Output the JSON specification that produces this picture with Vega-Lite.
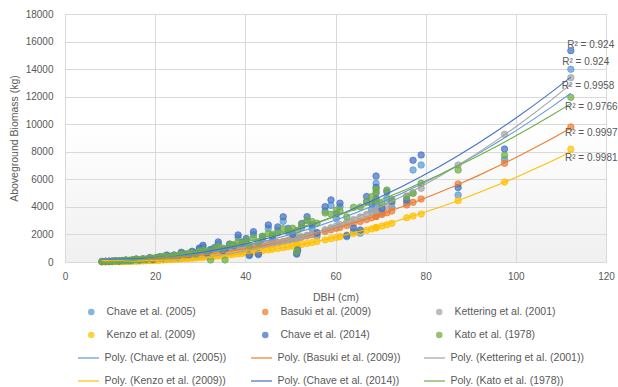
{
"$schema": "https://vega.github.io/schema/vega-lite/v6.json",
"width": 541, "height": 248,
"autosize": {"type": "none"},
"padding": {"left": 65, "top": 14, "right": 12, "bottom": 125},
"background": "#ffffff",
"config": {
  "font": "Liberation Sans",
  "view": {"stroke": null, "fill": {"gradient": "linear", "x1": 0, "y1": 0, "x2": 0, "y2": 1, "stops": [{"offset": 0, "color": "#ffffff"}, {"offset": 0.45, "color": "#ffffff"}, {"offset": 1, "color": "#f0f0f0"}]}},
  "axis": {"labelColor": "#595959", "titleColor": "#595959", "labelFont": "Liberation Sans", "titleFont": "Liberation Sans", "labelFontSize": 10, "titleFontSize": 10.5, "titleFontWeight": "normal", "gridColor": "#D9D9D9", "gridWidth": 1, "ticks": false, "domain": false, "labelOverlap": false},
  "legend": {"labelColor": "#595959", "labelFont": "Liberation Sans", "labelFontSize": 10.5, "title": null, "padding": 0, "labelLimit": 250}
},
"datasets": {
"pts": [
{"s":"a","d":8.2,"y":30},{"s":"a","d":9.0,"y":43},{"s":"a","d":9.8,"y":40},{"s":"a","d":10.5,"y":57},{"s":"a","d":11.2,"y":78},{"s":"a","d":12.0,"y":56},{"s":"a","d":12.8,"y":97},{"s":"a","d":13.5,"y":128},{"s":"a","d":14.3,"y":95},{"s":"a","d":15.0,"y":129},{"s":"a","d":15.8,"y":198},{"s":"a","d":16.5,"y":124},{"s":"a","d":17.3,"y":203},{"s":"a","d":18.0,"y":178},{"s":"a","d":18.8,"y":286},{"s":"a","d":19.5,"y":171},{"s":"a","d":20.3,"y":283},{"s":"a","d":21.0,"y":344},{"s":"a","d":21.8,"y":264},{"s":"a","d":22.6,"y":452},{"s":"a","d":23.4,"y":359},{"s":"a","d":24.2,"y":459},{"s":"a","d":25.0,"y":324},{"s":"a","d":25.8,"y":633},{"s":"a","d":26.6,"y":526},{"s":"a","d":27.4,"y":446},{"s":"a","d":28.2,"y":702},{"s":"a","d":29.0,"y":587},{"s":"a","d":29.8,"y":912},{"s":"a","d":30.6,"y":1089},{"s":"a","d":31.5,"y":581},{"s":"a","d":32.3,"y":822},{"s":"a","d":33.2,"y":949},{"s":"a","d":34.0,"y":1310},{"s":"a","d":35.0,"y":741},{"s":"a","d":35.5,"y":852},{"s":"a","d":36.5,"y":1178},{"s":"a","d":37.4,"y":1056},{"s":"a","d":38.4,"y":1764},{"s":"a","d":39.3,"y":1290},{"s":"a","d":40.2,"y":1530},{"s":"a","d":40.9,"y":460},{"s":"a","d":41.8,"y":1980},{"s":"a","d":42.9,"y":527},{"s":"a","d":43.8,"y":1658},{"s":"a","d":45.1,"y":2445},{"s":"a","d":46.0,"y":1702},{"s":"a","d":47.2,"y":2292},{"s":"a","d":48.4,"y":2950},{"s":"a","d":49.5,"y":2196},{"s":"a","d":50.5,"y":1820},{"s":"a","d":51.4,"y":560},{"s":"a","d":51.6,"y":800},{"s":"a","d":52.5,"y":2513},{"s":"a","d":53.7,"y":2990},{"s":"a","d":54.8,"y":2426},{"s":"a","d":55.9,"y":1887},{"s":"a","d":57.7,"y":3700},{"s":"a","d":59.0,"y":4100},{"s":"a","d":60.2,"y":3155},{"s":"a","d":61.0,"y":4015},{"s":"a","d":62.5,"y":1840},{"s":"a","d":64.0,"y":2213},{"s":"a","d":65.5,"y":2090},{"s":"a","d":66.9,"y":4380},{"s":"a","d":68.0,"y":3800},{"s":"a","d":69.0,"y":5710},{"s":"a","d":69.0,"y":4985},{"s":"a","d":69.0,"y":4200},{"s":"a","d":70.3,"y":3535},{"s":"a","d":71.4,"y":4620},{"s":"a","d":72.5,"y":3970},{"s":"a","d":75.8,"y":4300},{"s":"a","d":77.2,"y":6680},{"s":"a","d":79.0,"y":7040},{"s":"a","d":87.2,"y":4860},{"s":"a","d":97.5,"y":7450},{"s":"a","d":112.2,"y":13990},
{"s":"b","d":8.2,"y":28},{"s":"b","d":9.0,"y":35},{"s":"b","d":9.8,"y":42},{"s":"b","d":10.5,"y":49},{"s":"b","d":11.2,"y":57},{"s":"b","d":12.0,"y":66},{"s":"b","d":12.8,"y":77},{"s":"b","d":13.5,"y":86},{"s":"b","d":14.3,"y":98},{"s":"b","d":15.0,"y":109},{"s":"b","d":15.8,"y":123},{"s":"b","d":16.5,"y":135},{"s":"b","d":17.3,"y":150},{"s":"b","d":18.0,"y":164},{"s":"b","d":18.8,"y":181},{"s":"b","d":19.5,"y":196},{"s":"b","d":20.3,"y":215},{"s":"b","d":21.0,"y":232},{"s":"b","d":21.8,"y":252},{"s":"b","d":22.6,"y":273},{"s":"b","d":23.4,"y":295},{"s":"b","d":24.2,"y":318},{"s":"b","d":25.0,"y":342},{"s":"b","d":25.8,"y":367},{"s":"b","d":26.6,"y":393},{"s":"b","d":27.4,"y":420},{"s":"b","d":28.2,"y":448},{"s":"b","d":29.0,"y":476},{"s":"b","d":29.8,"y":507},{"s":"b","d":30.6,"y":537},{"s":"b","d":31.5,"y":573},{"s":"b","d":32.3,"y":606},{"s":"b","d":33.2,"y":645},{"s":"b","d":34.0,"y":680},{"s":"b","d":35.0,"y":724},{"s":"b","d":35.5,"y":750},{"s":"b","d":36.5,"y":796},{"s":"b","d":37.4,"y":842},{"s":"b","d":38.4,"y":892},{"s":"b","d":39.3,"y":940},{"s":"b","d":40.2,"y":990},{"s":"b","d":40.9,"y":1028},{"s":"b","d":41.8,"y":1080},{"s":"b","d":42.9,"y":1143},{"s":"b","d":43.8,"y":1199},{"s":"b","d":45.1,"y":1279},{"s":"b","d":46.0,"y":1338},{"s":"b","d":47.2,"y":1415},{"s":"b","d":48.4,"y":1496},{"s":"b","d":49.5,"y":1574},{"s":"b","d":50.5,"y":1647},{"s":"b","d":51.4,"y":1715},{"s":"b","d":51.6,"y":1730},{"s":"b","d":52.5,"y":1799},{"s":"b","d":53.7,"y":1889},{"s":"b","d":54.8,"y":1980},{"s":"b","d":55.9,"y":2071},{"s":"b","d":57.7,"y":2219},{"s":"b","d":59.0,"y":2334},{"s":"b","d":60.2,"y":2441},{"s":"b","d":61.0,"y":2513},{"s":"b","d":62.5,"y":2654},{"s":"b","d":64.0,"y":2795},{"s":"b","d":65.5,"y":2945},{"s":"b","d":66.9,"y":3089},{"s":"b","d":68.0,"y":3206},{"s":"b","d":69.0,"y":3308},{"s":"b","d":69.0,"y":3308},{"s":"b","d":69.0,"y":3308},{"s":"b","d":70.3,"y":3451},{"s":"b","d":71.4,"y":3571},{"s":"b","d":72.5,"y":3702},{"s":"b","d":75.8,"y":4140},{"s":"b","d":77.2,"y":4330},{"s":"b","d":79.0,"y":4570},{"s":"b","d":87.2,"y":5660},{"s":"b","d":97.5,"y":7160},{"s":"b","d":112.2,"y":9800},
{"s":"c","d":8.2,"y":14},{"s":"c","d":9.0,"y":18},{"s":"c","d":9.8,"y":23},{"s":"c","d":10.5,"y":27},{"s":"c","d":11.2,"y":32},{"s":"c","d":12.0,"y":38},{"s":"c","d":12.8,"y":45},{"s":"c","d":13.5,"y":52},{"s":"c","d":14.3,"y":61},{"s":"c","d":15.0,"y":69},{"s":"c","d":15.8,"y":79},{"s":"c","d":16.5,"y":88},{"s":"c","d":17.3,"y":100},{"s":"c","d":18.0,"y":111},{"s":"c","d":18.8,"y":124},{"s":"c","d":19.5,"y":136},{"s":"c","d":20.3,"y":152},{"s":"c","d":21.0,"y":166},{"s":"c","d":21.8,"y":183},{"s":"c","d":22.6,"y":201},{"s":"c","d":23.4,"y":220},{"s":"c","d":24.2,"y":240},{"s":"c","d":25.0,"y":262},{"s":"c","d":25.8,"y":284},{"s":"c","d":26.6,"y":308},{"s":"c","d":27.4,"y":333},{"s":"c","d":28.2,"y":358},{"s":"c","d":29.0,"y":386},{"s":"c","d":29.8,"y":415},{"s":"c","d":30.6,"y":444},{"s":"c","d":31.5,"y":479},{"s":"c","d":32.3,"y":512},{"s":"c","d":33.2,"y":551},{"s":"c","d":34.0,"y":585},{"s":"c","d":35.0,"y":631},{"s":"c","d":35.5,"y":657},{"s":"c","d":36.5,"y":705},{"s":"c","d":37.4,"y":753},{"s":"c","d":38.4,"y":806},{"s":"c","d":39.3,"y":856},{"s":"c","d":40.2,"y":909},{"s":"c","d":40.9,"y":951},{"s":"c","d":41.8,"y":1006},{"s":"c","d":42.9,"y":1078},{"s":"c","d":43.8,"y":1139},{"s":"c","d":45.1,"y":1229},{"s":"c","d":46.0,"y":1295},{"s":"c","d":47.2,"y":1382},{"s":"c","d":48.4,"y":1476},{"s":"c","d":49.5,"y":1567},{"s":"c","d":50.5,"y":1653},{"s":"c","d":51.4,"y":1732},{"s":"c","d":51.6,"y":1750},{"s":"c","d":52.5,"y":1831},{"s":"c","d":53.7,"y":1938},{"s":"c","d":54.8,"y":2047},{"s":"c","d":55.9,"y":2160},{"s":"c","d":57.7,"y":2341},{"s":"c","d":59.0,"y":2487},{"s":"c","d":60.2,"y":2622},{"s":"c","d":61.0,"y":2713},{"s":"c","d":62.5,"y":2887},{"s":"c","d":64.0,"y":3074},{"s":"c","d":65.5,"y":3268},{"s":"c","d":66.9,"y":3451},{"s":"c","d":68.0,"y":3607},{"s":"c","d":69.0,"y":3743},{"s":"c","d":69.0,"y":3743},{"s":"c","d":69.0,"y":3743},{"s":"c","d":70.3,"y":3935},{"s":"c","d":71.4,"y":4092},{"s":"c","d":72.5,"y":4267},{"s":"c","d":75.8,"y":4786},{"s":"c","d":77.2,"y":5022},{"s":"c","d":79.0,"y":5350},{"s":"c","d":87.2,"y":7040},{"s":"c","d":97.5,"y":9270},{"s":"c","d":112.2,"y":13380},
{"s":"d","d":8.2,"y":14},{"s":"d","d":9.0,"y":17},{"s":"d","d":9.8,"y":21},{"s":"d","d":10.5,"y":25},{"s":"d","d":11.2,"y":29},{"s":"d","d":12.0,"y":34},{"s":"d","d":12.8,"y":40},{"s":"d","d":13.5,"y":46},{"s":"d","d":14.3,"y":53},{"s":"d","d":15.0,"y":59},{"s":"d","d":15.8,"y":67},{"s":"d","d":16.5,"y":75},{"s":"d","d":17.3,"y":84},{"s":"d","d":18.0,"y":92},{"s":"d","d":18.8,"y":103},{"s":"d","d":19.5,"y":112},{"s":"d","d":20.3,"y":124},{"s":"d","d":21.0,"y":135},{"s":"d","d":21.8,"y":148},{"s":"d","d":22.6,"y":161},{"s":"d","d":23.4,"y":176},{"s":"d","d":24.2,"y":191},{"s":"d","d":25.0,"y":207},{"s":"d","d":25.8,"y":223},{"s":"d","d":26.6,"y":241},{"s":"d","d":27.4,"y":259},{"s":"d","d":28.2,"y":278},{"s":"d","d":29.0,"y":297},{"s":"d","d":29.8,"y":318},{"s":"d","d":30.6,"y":339},{"s":"d","d":31.5,"y":364},{"s":"d","d":32.3,"y":387},{"s":"d","d":33.2,"y":414},{"s":"d","d":34.0,"y":439},{"s":"d","d":35.0,"y":471},{"s":"d","d":35.5,"y":489},{"s":"d","d":36.5,"y":522},{"s":"d","d":37.4,"y":555},{"s":"d","d":38.4,"y":592},{"s":"d","d":39.3,"y":626},{"s":"d","d":40.2,"y":662},{"s":"d","d":40.9,"y":690},{"s":"d","d":41.8,"y":728},{"s":"d","d":42.9,"y":777},{"s":"d","d":43.8,"y":817},{"s":"d","d":45.1,"y":877},{"s":"d","d":46.0,"y":921},{"s":"d","d":47.2,"y":979},{"s":"d","d":48.4,"y":1041},{"s":"d","d":49.5,"y":1101},{"s":"d","d":50.5,"y":1157},{"s":"d","d":51.4,"y":1209},{"s":"d","d":51.6,"y":1220},{"s":"d","d":52.5,"y":1272},{"s":"d","d":53.7,"y":1343},{"s":"d","d":54.8,"y":1415},{"s":"d","d":55.9,"y":1486},{"s":"d","d":57.7,"y":1604},{"s":"d","d":59.0,"y":1696},{"s":"d","d":60.2,"y":1782},{"s":"d","d":61.0,"y":1840},{"s":"d","d":62.5,"y":1952},{"s":"d","d":64.0,"y":2071},{"s":"d","d":65.5,"y":2190},{"s":"d","d":66.9,"y":2305},{"s":"d","d":68.0,"y":2404},{"s":"d","d":69.0,"y":2487},{"s":"d","d":69.0,"y":2487},{"s":"d","d":69.0,"y":2487},{"s":"d","d":70.3,"y":2607},{"s":"d","d":71.4,"y":2700},{"s":"d","d":72.5,"y":2810},{"s":"d","d":75.8,"y":3215},{"s":"d","d":77.2,"y":3340},{"s":"d","d":79.0,"y":3480},{"s":"d","d":87.2,"y":4450},{"s":"d","d":97.5,"y":5800},{"s":"d","d":112.2,"y":8180},
{"s":"e","d":8.2,"y":33},{"s":"e","d":9.0,"y":48},{"s":"e","d":9.8,"y":44},{"s":"e","d":10.5,"y":63},{"s":"e","d":11.2,"y":87},{"s":"e","d":12.0,"y":62},{"s":"e","d":12.8,"y":108},{"s":"e","d":13.5,"y":143},{"s":"e","d":14.3,"y":105},{"s":"e","d":15.0,"y":143},{"s":"e","d":15.8,"y":220},{"s":"e","d":16.5,"y":138},{"s":"e","d":17.3,"y":226},{"s":"e","d":18.0,"y":198},{"s":"e","d":18.8,"y":318},{"s":"e","d":19.5,"y":190},{"s":"e","d":20.3,"y":314},{"s":"e","d":21.0,"y":382},{"s":"e","d":21.8,"y":293},{"s":"e","d":22.6,"y":503},{"s":"e","d":23.4,"y":399},{"s":"e","d":24.2,"y":510},{"s":"e","d":25.0,"y":360},{"s":"e","d":25.8,"y":704},{"s":"e","d":26.6,"y":584},{"s":"e","d":27.4,"y":496},{"s":"e","d":28.2,"y":780},{"s":"e","d":29.0,"y":652},{"s":"e","d":29.8,"y":1013},{"s":"e","d":30.6,"y":1210},{"s":"e","d":31.5,"y":646},{"s":"e","d":32.3,"y":913},{"s":"e","d":33.2,"y":1054},{"s":"e","d":34.0,"y":1455},{"s":"e","d":35.0,"y":824},{"s":"e","d":35.5,"y":947},{"s":"e","d":36.5,"y":1309},{"s":"e","d":37.4,"y":1174},{"s":"e","d":38.4,"y":1960},{"s":"e","d":39.3,"y":1433},{"s":"e","d":40.2,"y":1700},{"s":"e","d":40.9,"y":510},{"s":"e","d":41.8,"y":2200},{"s":"e","d":42.9,"y":585},{"s":"e","d":43.8,"y":1842},{"s":"e","d":45.1,"y":2690},{"s":"e","d":46.0,"y":1891},{"s":"e","d":47.2,"y":2547},{"s":"e","d":48.4,"y":3278},{"s":"e","d":49.5,"y":2440},{"s":"e","d":50.5,"y":2022},{"s":"e","d":51.4,"y":620},{"s":"e","d":51.6,"y":880},{"s":"e","d":52.5,"y":2792},{"s":"e","d":53.7,"y":3290},{"s":"e","d":54.8,"y":2696},{"s":"e","d":55.9,"y":2097},{"s":"e","d":57.7,"y":4015},{"s":"e","d":59.0,"y":4505},{"s":"e","d":60.2,"y":3506},{"s":"e","d":61.0,"y":4269},{"s":"e","d":62.5,"y":1911},{"s":"e","d":64.0,"y":2459},{"s":"e","d":65.5,"y":2322},{"s":"e","d":66.9,"y":4750},{"s":"e","d":68.0,"y":4222},{"s":"e","d":69.0,"y":6240},{"s":"e","d":69.0,"y":5420},{"s":"e","d":69.0,"y":4580},{"s":"e","d":70.3,"y":3876},{"s":"e","d":71.4,"y":5100},{"s":"e","d":72.5,"y":4406},{"s":"e","d":75.8,"y":4500},{"s":"e","d":77.2,"y":7380},{"s":"e","d":79.0,"y":7766},{"s":"e","d":87.2,"y":5400},{"s":"e","d":97.5,"y":8200},{"s":"e","d":112.2,"y":15340},
{"s":"f","d":8.2,"y":41},{"s":"f","d":9.0,"y":46},{"s":"f","d":9.8,"y":66},{"s":"f","d":10.5,"y":59},{"s":"f","d":11.2,"y":81},{"s":"f","d":12.0,"y":104},{"s":"f","d":12.8,"y":100},{"s":"f","d":13.5,"y":129},{"s":"f","d":14.3,"y":121},{"s":"f","d":15.0,"y":170},{"s":"f","d":15.8,"y":175},{"s":"f","d":16.5,"y":184},{"s":"f","d":17.3,"y":233},{"s":"f","d":18.0,"y":190},{"s":"f","d":18.8,"y":291},{"s":"f","d":19.5,"y":277},{"s":"f","d":20.3,"y":331},{"s":"f","d":21.0,"y":297},{"s":"f","d":21.8,"y":419},{"s":"f","d":22.6,"y":401},{"s":"f","d":23.4,"y":358},{"s":"f","d":24.2,"y":486},{"s":"f","d":25.0,"y":480},{"s":"f","d":25.8,"y":584},{"s":"f","d":26.6,"y":500},{"s":"f","d":27.4,"y":640},{"s":"f","d":28.2,"y":652},{"s":"f","d":29.0,"y":543},{"s":"f","d":29.8,"y":769},{"s":"f","d":30.6,"y":849},{"s":"f","d":31.5,"y":796},{"s":"f","d":32.3,"y":150},{"s":"f","d":33.2,"y":977},{"s":"f","d":34.0,"y":1113},{"s":"f","d":35.0,"y":1003},{"s":"f","d":35.5,"y":150},{"s":"f","d":36.5,"y":1251},{"s":"f","d":37.4,"y":1268},{"s":"f","d":38.4,"y":1456},{"s":"f","d":39.3,"y":1355},{"s":"f","d":40.2,"y":1550},{"s":"f","d":40.9,"y":1157},{"s":"f","d":41.8,"y":1756},{"s":"f","d":42.9,"y":1430},{"s":"f","d":43.8,"y":1871},{"s":"f","d":45.1,"y":2075},{"s":"f","d":46.0,"y":2002},{"s":"f","d":47.2,"y":2114},{"s":"f","d":48.4,"y":2421},{"s":"f","d":49.5,"y":2251},{"s":"f","d":50.5,"y":2455},{"s":"f","d":51.4,"y":760},{"s":"f","d":51.6,"y":2300},{"s":"f","d":52.5,"y":2675},{"s":"f","d":53.7,"y":3043},{"s":"f","d":54.8,"y":2941},{"s":"f","d":55.9,"y":2817},{"s":"f","d":57.7,"y":3563},{"s":"f","d":59.0,"y":3461},{"s":"f","d":60.2,"y":3768},{"s":"f","d":61.0,"y":3719},{"s":"f","d":62.5,"y":3272},{"s":"f","d":64.0,"y":3966},{"s":"f","d":65.5,"y":3988},{"s":"f","d":66.9,"y":4369},{"s":"f","d":68.0,"y":4730},{"s":"f","d":69.0,"y":5083},{"s":"f","d":69.0,"y":4473},{"s":"f","d":69.0,"y":5286},{"s":"f","d":70.3,"y":4241},{"s":"f","d":71.4,"y":5225},{"s":"f","d":72.5,"y":4540},{"s":"f","d":75.8,"y":4740},{"s":"f","d":77.2,"y":4985},{"s":"f","d":79.0,"y":5710},{"s":"f","d":87.2,"y":6680},{"s":"f","d":97.5,"y":7740},{"s":"f","d":112.2,"y":11950}
],
"names": [
{"s":"a","name":"Chave et al. (2005)","poly":"Poly. (Chave et al. (2005))"},
{"s":"b","name":"Basuki et al. (2009)","poly":"Poly. (Basuki et al. (2009))"},
{"s":"c","name":"Kettering et al. (2001)","poly":"Poly. (Kettering et al. (2001))"},
{"s":"d","name":"Kenzo et al. (2009)","poly":"Poly. (Kenzo et al. (2009))"},
{"s":"e","name":"Chave et al. (2014)","poly":"Poly. (Chave et al. (2014))"},
{"s":"f","name":"Kato et al. (1978)","poly":"Poly. (Kato et al. (1978))"}
]
},
"layer": [
{
  "data": {"name": "pts"},
  "transform": [{"lookup": "s", "from": {"data": {"name": "names"}, "key": "s", "fields": ["name", "poly"]}}],
  "mark": {"type": "circle", "size": 42, "fillOpacity": 0.72, "strokeWidth": 0.8, "strokeOpacity": 0.9},
  "encoding": {
    "x": {"field": "d", "type": "quantitative", "scale": {"domain": [0, 120], "nice": false}, "axis": {"values": [0, 20, 40, 60, 80, 100, 120], "title": "DBH (cm)", "grid": true, "domain": true, "domainColor": "#D9D9D9", "labelPadding": 9, "titlePadding": 11, "labelFlush": false, "labelOverlap": false}},
    "y": {"field": "y", "type": "quantitative", "scale": {"domain": [0, 18000], "nice": false}, "axis": {"values": [0, 2000, 4000, 6000, 8000, 10000, 12000, 14000, 16000, 18000], "format": "d", "title": "Aboveground Biomass (kg)", "grid": true, "labelPadding": 12, "titlePadding": 6, "labelOverlap": false, "labelFlush": false}},
    "fill": {"field": "name", "type": "nominal", "scale": {"domain": ["Chave et al. (2005)", "Kenzo et al. (2009)", "Basuki et al. (2009)", "Chave et al. (2014)", "Kettering et al. (2001)", "Kato et al. (1978)"], "range": ["#5B9BD5", "#FFC000", "#ED7D31", "#4472C4", "#A5A5A5", "#70AD47"]},
      "legend": {"orient": "none", "legendX": 21, "legendY": 292, "columns": 3, "symbolType": "circle", "symbolSize": 42, "symbolOpacity": 0.75, "symbolStrokeWidth": 0, "labelOffset": 10, "columnPadding": 52, "rowPadding": 11, "clipHeight": 12, "gridAlign": "all"}},
    "stroke": {"field": "name", "type": "nominal", "scale": {"domain": ["Chave et al. (2005)", "Kenzo et al. (2009)", "Basuki et al. (2009)", "Chave et al. (2014)", "Kettering et al. (2001)", "Kato et al. (1978)"], "range": ["#5B9BD5", "#FFC000", "#ED7D31", "#4472C4", "#A5A5A5", "#70AD47"]}, "legend": null},
    "order": {"field": "s", "type": "ordinal"}
  }
},
{
  "data": {"name": "pts"},
  "transform": [{"lookup": "s", "from": {"data": {"name": "names"}, "key": "s", "fields": ["name", "poly"]}}, {"regression": "y", "on": "d", "groupby": ["poly"], "method": "poly", "order": 2}],
  "mark": {"type": "line", "strokeWidth": 1.1},
  "encoding": {
    "x": {"field": "d", "type": "quantitative", "scale": {"domain": [0, 120], "nice": false}, "axis": {"values": [0, 20, 40, 60, 80, 100, 120], "title": "DBH (cm)", "grid": true, "domain": true, "domainColor": "#D9D9D9", "labelPadding": 9, "titlePadding": 11, "labelFlush": false, "labelOverlap": false}},
    "y": {"field": "y", "type": "quantitative", "scale": {"domain": [0, 18000], "nice": false}, "axis": {"values": [0, 2000, 4000, 6000, 8000, 10000, 12000, 14000, 16000, 18000], "format": "d", "title": "Aboveground Biomass (kg)", "grid": true, "labelPadding": 12, "titlePadding": 6, "labelOverlap": false, "labelFlush": false}},
    "stroke": {"field": "poly", "type": "nominal", "scale": {"domain": ["Poly. (Chave et al. (2005))", "Poly. (Kenzo et al. (2009))", "Poly. (Basuki et al. (2009))", "Poly. (Chave et al. (2014))", "Poly. (Kettering et al. (2001))", "Poly. (Kato et al. (1978))"], "range": ["#5B9BD5", "#FFC000", "#ED7D31", "#4472C4", "#A5A5A5", "#70AD47"]},
      "legend": {"orient": "none", "legendX": 12, "legendY": 338, "columns": 3, "symbolType": "stroke", "symbolSize": 441, "symbolStrokeWidth": 1.5, "symbolOpacity": 0.8, "labelOffset": 4.5, "columnPadding": 12, "rowPadding": 11, "clipHeight": 12, "gridAlign": "all"}}
  }
},
{
  "data": {"values": [
    {"x": 111.4, "y": 15750, "t": "R² = 0.924"},
    {"x": 110.3, "y": 14540, "t": "R² = 0.924"},
    {"x": 110.2, "y": 12800, "t": "R² = 0.9958"},
    {"x": 110.9, "y": 11250, "t": "R² = 0.9766"},
    {"x": 110.9, "y": 9350, "t": "R² = 0.9997"},
    {"x": 110.9, "y": 7520, "t": "R² = 0.9981"}
  ]},
  "mark": {"type": "text", "align": "left", "baseline": "middle", "fontSize": 10, "color": "#595959", "font": "Liberation Sans"},
  "encoding": {
    "x": {"field": "x", "type": "quantitative", "scale": {"domain": [0, 120], "nice": false}, "axis": {"values": [0, 20, 40, 60, 80, 100, 120], "title": "DBH (cm)", "grid": true, "domain": true, "domainColor": "#D9D9D9", "labelPadding": 9, "titlePadding": 11, "labelFlush": false, "labelOverlap": false}},
    "y": {"field": "y", "type": "quantitative", "scale": {"domain": [0, 18000], "nice": false}, "axis": {"values": [0, 2000, 4000, 6000, 8000, 10000, 12000, 14000, 16000, 18000], "format": "d", "title": "Aboveground Biomass (kg)", "grid": true, "labelPadding": 12, "titlePadding": 6, "labelOverlap": false, "labelFlush": false}},
    "text": {"field": "t", "type": "nominal"}
  }
}
],
"resolve": {"scale": {"stroke": "independent"}}
}
